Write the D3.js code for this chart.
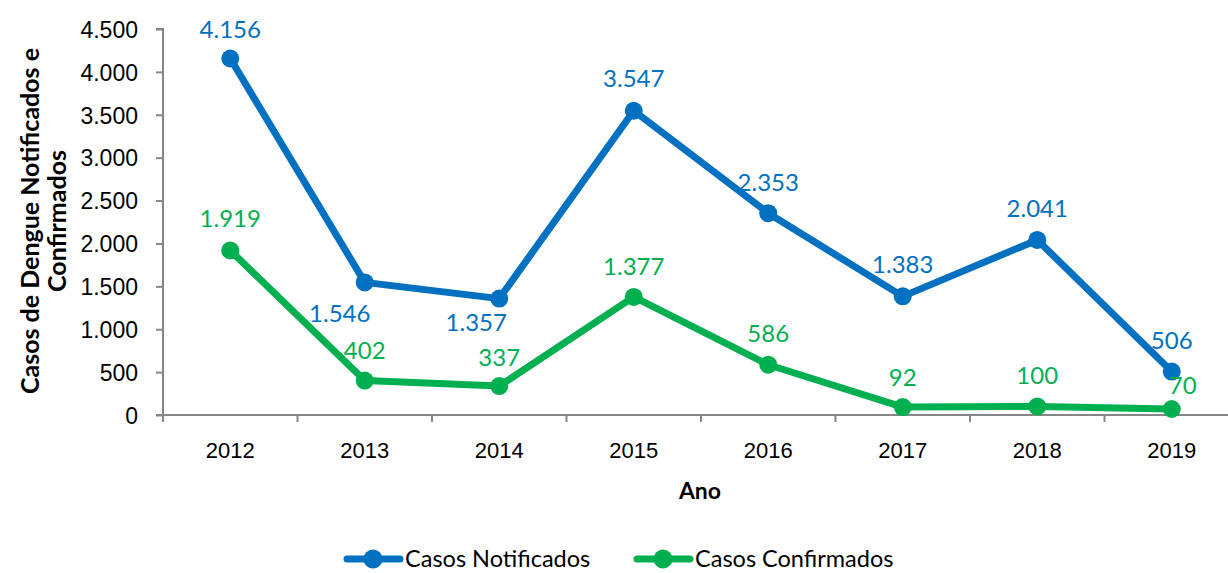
<!DOCTYPE html>
<html><head><meta charset="utf-8">
<script src="https://d3js.org/d3.v7.min.js"></script>
<style>body{margin:0;background:#fff;} svg{display:block;font-family:Lato,"Open Sans",sans-serif;}</style>
</head><body>
<script>
const years = ["2012","2013","2014","2015","2016","2017","2018","2019"];
const notificados = [4156,1546,1357,3547,2353,1383,2041,506];
const confirmados = [1919,402,337,1377,586,92,100,70];
const yTicks = [0,500,1000,1500,2000,2500,3000,3500,4000,4500];
const seriesNames = ["Casos Notificados","Casos Confirmados"];
const colors = ["#0070C0","#00B050"];
// label offsets per point [dx, dy] relative to point
const notifOffsets = [[0,-29],[-25,31],[-23,24],[0,-32],[0,-31],[0,-32],[0,-32],[0,-31]];
const confOffsets = [[0,-32],[0,-30],[0,-29],[0,-31],[0,-31],[0,-30],[0,-31],[11,-24]];

const W=1228,H=573;
const svg=d3.select("body").append("svg").attr("width",W).attr("height",H);
const x0=163, x1=163+134.5*8, y0=415, y1=29;
const x=d3.scaleBand().domain(years).range([x0,x1]);
const y=d3.scaleLinear().domain([0,4500]).range([y0,y1]);
const fmt=v=>d3.format(",")(v).replace(/,/g,".");

// axes
const yAxis=d3.axisLeft(y).tickValues(yTicks).tickSize(7).tickFormat(fmt);
const gy=svg.append("g").attr("transform",`translate(${x0},0)`).call(yAxis);
gy.select(".domain").attr("stroke","#868686").attr("stroke-width",2).attr("d",`M-7,${y1}H0V${y0}`);
gy.selectAll(".tick line").attr("stroke","#868686").attr("stroke-width",2);
gy.selectAll(".tick text").attr("font-size",23).attr("fill","#000").attr("x",-25).attr("dy","0.36em");

const xAxis=d3.axisBottom(x).tickSize(0).tickFormat(d=>d);
const gx=svg.append("g").attr("transform",`translate(0,${y0})`).call(xAxis);
gx.select(".domain").attr("stroke","#868686").attr("stroke-width",2).attr("d",`M${x0-7},0H${x1}`);
gx.selectAll(".tick text").attr("font-size",22).attr("fill","#000").attr("y",35).attr("dy","0.36em");
const boundaries=d3.range(years.length+1).map(i=>x0+i*x.step());
gx.selectAll(".bt").data(boundaries).enter().append("line").attr("class","bt")
  .attr("x1",d=>d).attr("x2",d=>d).attr("y1",0).attr("y2",7).attr("stroke","#868686").attr("stroke-width",2);

// titles
svg.append("text").attr("x",700).attr("y",499).attr("text-anchor","middle").attr("font-size",23).attr("font-weight","bold").text("Ano");
const yt=svg.append("text").attr("transform","translate(0,221) rotate(-90)").attr("text-anchor","middle").attr("font-size",25).attr("font-weight","bold");
yt.append("tspan").attr("x",0).attr("y",39).text("Casos de Dengue Notificados e");
yt.append("tspan").attr("x",0).attr("y",66).text("Confirmados");

const cx=d=>x(d)+x.bandwidth()/2;
const line=d3.line().x((d,i)=>cx(years[i])).y(d=>y(d));
const all=[notificados,confirmados];
const offs=[notifOffsets,confOffsets];
all.forEach((vals,s)=>{
  svg.append("path").attr("d",line(vals)).attr("fill","none").attr("stroke",colors[s]).attr("stroke-width",7).attr("stroke-linejoin","round");
});
all.forEach((vals,s)=>{
  svg.selectAll(".m"+s).data(vals).enter().append("circle")
   .attr("cx",(d,i)=>cx(years[i])).attr("cy",d=>y(d)).attr("r",9).attr("fill",colors[s]);
});
all.forEach((vals,s)=>{
  svg.selectAll(".l"+s).data(vals).enter().append("text")
   .attr("x",(d,i)=>cx(years[i])+offs[s][i][0]).attr("y",(d,i)=>y(d)+offs[s][i][1])
   .attr("dy","0.36em").attr("text-anchor","middle").attr("font-size",24).attr("fill",colors[s]).text(d=>fmt(d));
});

// legend
const legX=[345,635];
seriesNames.forEach((n,i)=>{
  const g=svg.append("g").attr("transform",`translate(${legX[i]},559)`);
  g.append("line").attr("x1",2).attr("x2",55).attr("stroke",colors[i]).attr("stroke-width",7).attr("stroke-linecap","round");
  g.append("circle").attr("cx",28).attr("r",9.5).attr("fill",colors[i]);
  g.append("text").attr("x",60).attr("dy","0.36em").attr("font-size",23.5).attr("fill","#000").text(n);
});
</script>
</body></html>
